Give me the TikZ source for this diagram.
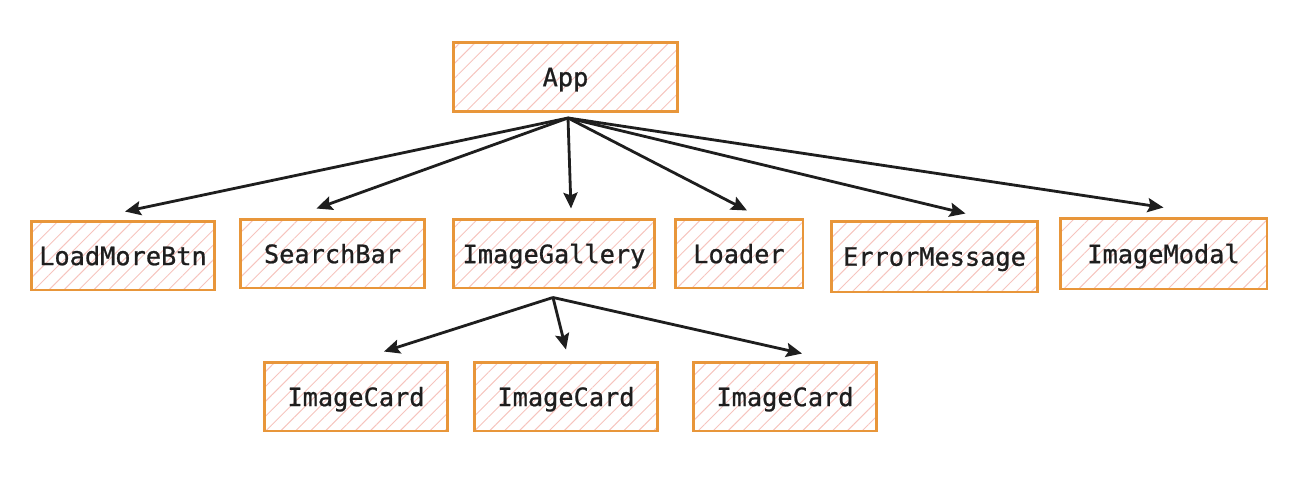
\documentclass[tikz,border=0pt]{standalone}
\usepackage{fontspec}
\newfontfamily\compfont{DejaVu Sans Mono}[FakeBold=0.9]
\usetikzlibrary{patterns.meta,arrows.meta}
\definecolor{boxorange}{HTML}{E8963A}
\definecolor{hatchpink}{HTML}{F6C4BE}
\definecolor{inkblack}{HTML}{1E1E1E}
\tikzset{
	comp/.style={draw=boxorange,line width=1.7pt,
		pattern={Lines[angle=45,distance=6pt,line width=0.55pt]},pattern color=hatchpink,
		text=inkblack,font=\compfont\fontsize{14.4}{17}\selectfont,
		inner sep=0pt,text depth=0pt,minimum height=1.38cm,minimum width=#1},
	conn/.style={draw=inkblack,line width=1.6pt,-{Stealth[length=9pt,width=8pt,inset=1.5pt]}}
}
\begin{document}
\begin{tikzpicture}[x=0.02cm,y=-0.02cm]
	\useasboundingbox (0,0) rectangle (1298,488);
	% root
	\node[comp=4.5cm] (app) at (565.5,77) {App};
	% children of App
	\node[comp=3.68cm] (lmb) at (123,255.5) {LoadMoreBtn};
	\node[comp=3.7cm] (sb) at (332.5,253.5) {SearchBar};
	\node[comp=4.04cm] (ig) at (554,253.5) {ImageGallery};
	\node[comp=2.56cm] (ld) at (739,253.5) {Loader};
	\node[comp=4.14cm,minimum height=1.42cm] (em) at (934.5,256.5) {ErrorMessage};
	\node[comp=4.14cm,minimum height=1.42cm] (im) at (1163.5,253.5) {ImageModal};
	% children of ImageGallery
	\node[comp=3.68cm] (icA) at (356,396.5) {ImageCard};
	\node[comp=3.68cm] (icB) at (566,396.5) {ImageCard};
	\node[comp=3.68cm] (icC) at (785,396.5) {ImageCard};
	\coordinate (appout) at ([shift={(2.5,6)}]app.south);
	\coordinate (igout) at ([shift={(-1,8)}]ig.south);
	\foreach \n/\dx/\dy in {lmb/2/-8,sb/-16/-9,ig/17/-9,ld/8/-7,em/31/-6,im/0/-9}
		\draw[conn] (appout) -- ([shift={(\dx,\dy)}]\n.north);
	\foreach \n/\dx/\dy in {icA/28/-9,icB/0/-11,icC/17/-7}
		\draw[conn] (igout) -- ([shift={(\dx,\dy)}]\n.north);
\end{tikzpicture}
\end{document}
